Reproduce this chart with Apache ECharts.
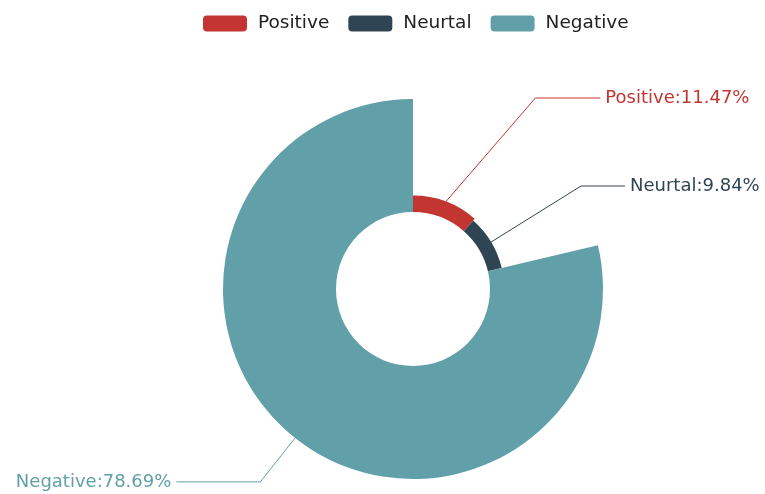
<!DOCTYPE html>
<html><head><meta charset="utf-8">
<script src="https://cdn.jsdelivr.net/npm/echarts@6/dist/echarts.min.js"></script>
<style>html,body{margin:0;padding:0;background:#fff}#c{width:765px;height:494px}</style>
</head><body><div id="c"></div>
<script>
const categories = ['Positive', 'Neurtal', 'Negative'];
const values = [11.47, 9.84, 78.69];
const colors = ['#c23531', '#2f4554', '#61a0a8'];
const lineLengths = [157, 10, 56];
const lineLengths2 = [65, 44, 84];

const FONT = 'DejaVu Sans';
const chart = echarts.init(document.getElementById('c'));
chart.setOption({
  animation: false,
  color: colors,
  textStyle: { fontFamily: FONT },
  legend: {
    top: 9, left: 198,
    itemWidth: 44, itemHeight: 16, itemGap: 19,
    icon: 'roundRect',
    textStyle: { fontSize: 18.5, color: '#222', fontFamily: FONT, padding: [0, 0, 0, 6] },
    data: categories
  },
  series: [{
    type: 'pie',
    roseType: 'radius',
    left: 0, right: 0, top: 88, bottom: 0,
    center: [413, 201],
    radius: [77, 190],
    startAngle: 90,
    avoidLabelOverlap: true,
    label: {
      show: true,
      overflow: 'none',
      formatter: p => p.name + ':' + p.value.toFixed(2) + '%',
      fontSize: 18,
      fontFamily: FONT
    },
    data: categories.map((n, i) => ({
      name: n, value: values[i],
      label: { color: colors[i] },
      labelLine: { length: lineLengths[i], length2: lineLengths2[i], lineStyle: { color: colors[i], width: 1 } }
    }))
  }]
});
</script></body></html>
